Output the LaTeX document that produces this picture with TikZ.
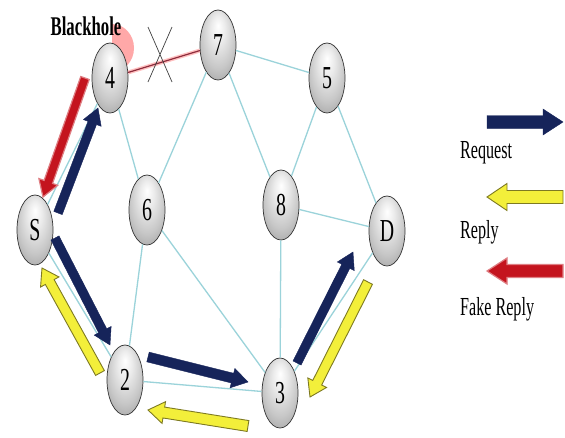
\documentclass[tikz,border=0pt]{standalone}
\usepackage{fontspec}
\setmainfont{Liberation Serif}[FakeStretch=0.62]
\usetikzlibrary{shapes.geometric,calc}

\definecolor{linkcyan}{HTML}{9BD3DA}
\definecolor{navyarrow}{HTML}{16245A}
\definecolor{replyfill}{HTML}{F3EF3A}
\definecolor{replyedge}{HTML}{7E7A22}
\definecolor{fakefill}{HTML}{C4141E}
\definecolor{badlink}{HTML}{8E2C3C}

% soft grey body, lit from the top
\pgfdeclareradialshading{hostglow}{\pgfpoint{0bp}{14bp}}{%
  color(0bp)=(white); color(10bp)=(white!92!black); color(24bp)=(white!78!black);
  color(38bp)=(white!60!black); color(50bp)=(white!42!black)}

% block arrow: #1 style, #2 tail, #3 tip, #4 half shaft, #5 half head, #6 head length
\newcommand\blockarrow[6]{%
  \coordinate (ah) at ($(#3)!#6!(#2)$);
  \filldraw[#1] ($(#2)!#4!90:(#3)$) -- ($(ah)!#4!90:(#3)$) -- ($(ah)!#5!90:(#3)$)
    -- (#3) -- ($(ah)!#5!-90:(#3)$) -- ($(ah)!#4!-90:(#3)$) -- ($(#2)!#4!-90:(#3)$) -- cycle;
}

\tikzset{
  host/.style={ellipse, minimum width=36pt, minimum height=70pt, inner sep=0pt,
    shading=hostglow, draw=gray!40!black, line width=0.7pt,
    font=\fontsize{32}{32}\selectfont},
  link/.style={draw=linkcyan, line width=1.3pt},
  request/.style={fill=navyarrow, draw=navyarrow, line width=0.4pt},
  reply/.style={fill=replyfill, draw=replyedge, line width=0.9pt},
  fake/.style={fill=fakefill, draw=fakefill!55!white, line width=1.2pt},
  legendtext/.style={anchor=base west, inner sep=0pt, font=\fontsize{26}{26}\selectfont}
}

\begin{document}
\begin{tikzpicture}[x=1pt, y=-1pt]
\useasboundingbox (0,0) rectangle (565,437);
\fill[white] (0,0) rectangle (565,437);

% pink halo of the blackhole node
\fill[red!40!white, opacity=0.85] (112,72) arc[start angle=90, end angle=-90, x radius=22, y radius=24] -- cycle;

% links
\coordinate (p4) at (110,78);
\coordinate (p7) at (218,45);

% hosts
\node[host] (S) at (35,230) {S};
\node[host] (n4) at (p4) {4};
\node[host] (n7) at (p7) {7};
\node[host] (n5) at (327,78) {5};
\node[host] (n6) at (147,210) {6};
\node[host] (n8) at (281,205) {8};
\node[host] (D) at (387,231) {D};
\node[host] (n2) at (125,380) {2};
\node[host] (n3) at (280,393) {3};

\draw[link] (S) -- (n4);
\draw[link] (S) -- (n2);
\draw[link] (n4) -- (n6);
\draw[link] (n7) -- (n6);
\draw[link] (n7) -- (n5);
\draw[link] (n7) -- (n8);
\draw[link] (n5) -- (n8);
\draw[link] (n5) -- (D);
\draw[link] (n8) -- (D);
\draw[link] (n8) -- (n3);
\draw[link] (n6) -- (n2);
\draw[link] (n6) -- (n3);
\draw[link] (n2) -- (n3);
\draw[link] (n3) -- (D);

% broken link towards the blackhole
\draw[red!35!white, line width=4pt, opacity=0.7] (n4) -- (n7);
\draw[badlink, line width=1.2pt] (n4) -- (n7);
\coordinate (xa) at (148,27); \coordinate (xb) at (172,82);
\coordinate (xc) at (172,27); \coordinate (xd) at (148,82);
\draw[gray!50!black, line width=0.7pt] (xa) -- (xb) (xc) -- (xd);

\node[anchor=base, inner sep=0pt, font=\bfseries\fontsize{27}{27}\selectfont] (bh) at (86,35) {Blackhole};

% route arrows
\coordinate (f1) at (85,78);   \coordinate (f2) at (43,197);
\coordinate (q1) at (58,213);  \coordinate (q2) at (98,108);
\coordinate (q3) at (55,238);  \coordinate (q4) at (110,345);
\coordinate (q5) at (148,357); \coordinate (q6) at (248,382);
\coordinate (q7) at (297,363); \coordinate (q8) at (353,252);
\coordinate (r1) at (100,373); \coordinate (r2) at (42,268);
\coordinate (r3) at (248,426); \coordinate (r4) at (148,410);
\coordinate (r5) at (368,282); \coordinate (r6) at (310,397);

\blockarrow{fake}{f1}{f2}{4.5pt}{10pt}{16pt}
\blockarrow{request}{q1}{q2}{4.5pt}{9.5pt}{16pt}
\blockarrow{request}{q3}{q4}{4.5pt}{9.5pt}{16pt}
\blockarrow{request}{q5}{q6}{5pt}{10pt}{16pt}
\blockarrow{request}{q7}{q8}{4.5pt}{9.5pt}{16pt}
\blockarrow{reply}{r1}{r2}{5pt}{10.5pt}{16pt}
\blockarrow{reply}{r3}{r4}{5.5pt}{11pt}{16pt}
\blockarrow{reply}{r5}{r6}{5pt}{10.5pt}{16pt}

% legend
\coordinate (l1) at (487,122); \coordinate (l2) at (563,122);
\coordinate (l3) at (563,197); \coordinate (l4) at (487,197);
\coordinate (l5) at (563,271); \coordinate (l6) at (487,271);
\blockarrow{request}{l1}{l2}{6.5pt}{13pt}{20pt}
\blockarrow{reply}{l3}{l4}{6.5pt}{13.5pt}{20pt}
\blockarrow{fake}{l5}{l6}{6.5pt}{13pt}{20pt}
\node[legendtext] (lq) at (460,158) {Request};
\node[legendtext] (lr) at (460,238) {Reply};
\node[legendtext] (lf) at (460,315) {Fake Reply};
\end{tikzpicture}
\end{document}
